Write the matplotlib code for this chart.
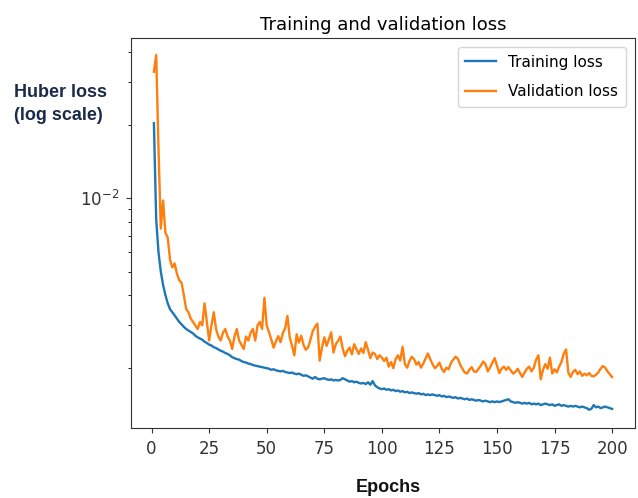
import matplotlib
matplotlib.use("Agg")
import matplotlib.pyplot as plt
from matplotlib.ticker import NullFormatter, LogLocator

# loss per epoch (log scale)
epochs = list(range(1, 201))

training_loss = [
    0.0204, 0.0082, 0.0060, 0.0050, 0.0044, 0.0040, 0.0037, 0.0035, 0.0034, 0.0033,
    0.0032, 0.0031, 0.00303, 0.00296, 0.0029, 0.00286, 0.00282, 0.00278, 0.00272, 0.00268,
    0.00265, 0.00262, 0.00257, 0.00254, 0.0025, 0.00248, 0.00244, 0.00242, 0.00239, 0.00236,
    0.00234, 0.00231, 0.00229, 0.00226, 0.00222, 0.0022, 0.00218, 0.00217, 0.00214, 0.00212,
    0.00211, 0.00209, 0.00208, 0.00206, 0.00205, 0.00204, 0.00203, 0.00202, 0.00201, 0.00200,
    0.00199, 0.00197, 0.00198, 0.00196, 0.00195, 0.00194, 0.00195, 0.00193, 0.00192, 0.00191,
    0.00192, 0.00190, 0.00189, 0.00190, 0.00188, 0.00186, 0.00187, 0.00185, 0.00183, 0.00181,
    0.00184, 0.00181, 0.00180, 0.00181, 0.00182, 0.00180, 0.00179, 0.00180, 0.00178, 0.00179,
    0.00178, 0.00179, 0.00182, 0.00180, 0.00178, 0.00176, 0.00177, 0.00175, 0.00176, 0.00174,
    0.00173, 0.00174, 0.00172, 0.00175, 0.00171, 0.00177, 0.00170, 0.00167, 0.00165, 0.00164,
    0.00165, 0.00163, 0.00164, 0.00162, 0.00163, 0.00161, 0.00162, 0.00160, 0.00161, 0.00159,
    0.00160, 0.00158, 0.00159, 0.00158, 0.00157, 0.00158, 0.00156, 0.00157, 0.00155, 0.00156,
    0.00155, 0.00156, 0.00155, 0.00154, 0.00155, 0.00153, 0.00154, 0.00152, 0.00153, 0.00152,
    0.00151, 0.00152, 0.00150, 0.00151, 0.00150, 0.00149, 0.00150, 0.00148, 0.00149, 0.00148,
    0.00147, 0.00148, 0.00147, 0.00146, 0.00147, 0.00146, 0.00145, 0.00146, 0.00145, 0.00146,
    0.00145, 0.00146, 0.00147, 0.00148, 0.00149, 0.00146, 0.00145, 0.00144, 0.00145, 0.00144,
    0.00143, 0.00144, 0.00143, 0.00144, 0.00142, 0.00143, 0.00142, 0.00143, 0.00141, 0.00142,
    0.00143, 0.00142, 0.00141, 0.00142, 0.00140, 0.00141, 0.00142, 0.00140, 0.00141, 0.00140,
    0.00139, 0.00140, 0.00139, 0.00140, 0.00139, 0.00138, 0.00139, 0.00138, 0.00137, 0.00135,
    0.00136, 0.00141, 0.00138, 0.00139, 0.00137, 0.00138, 0.00139, 0.00138, 0.00137, 0.00136,
]

validation_loss = [
    0.0332, 0.0389, 0.0160, 0.0075, 0.0098, 0.0072, 0.0069, 0.0056, 0.0052, 0.0054,
    0.0049, 0.0046, 0.0045, 0.0040, 0.0035, 0.0034, 0.0032, 0.0031, 0.0030, 0.0029,
    0.0031, 0.0030, 0.0037, 0.0031, 0.0026, 0.0030, 0.0034, 0.0029, 0.0027, 0.0026,
    0.0028, 0.0029, 0.0027, 0.0026, 0.0024, 0.0027, 0.0029, 0.0026, 0.0025, 0.0024,
    0.0027, 0.0026, 0.0028, 0.0029, 0.0026, 0.0030, 0.0031, 0.0029, 0.0039, 0.0030,
    0.00281, 0.00262, 0.00243, 0.00258, 0.00271, 0.00256, 0.00279, 0.00292, 0.00328, 0.00268,
    0.00247, 0.00226, 0.00276, 0.00255, 0.00272, 0.00249, 0.00238, 0.00244, 0.00262, 0.00284,
    0.00296, 0.00305, 0.00215, 0.00243, 0.00268, 0.00247, 0.00263, 0.00281, 0.00232, 0.00251,
    0.00259, 0.00270, 0.00241, 0.00224, 0.00236, 0.00243, 0.00228, 0.00251, 0.00239, 0.00229,
    0.00241, 0.00231, 0.00256, 0.00238, 0.00220, 0.00232, 0.00229, 0.00218, 0.00226, 0.00221,
    0.00214, 0.00221, 0.00203, 0.00212, 0.00200, 0.00218, 0.00226, 0.00215, 0.00245, 0.00208,
    0.00201, 0.00214, 0.00223, 0.00218, 0.00207, 0.00212, 0.00201, 0.00209, 0.00219, 0.00230,
    0.00218, 0.00208, 0.00200, 0.00204, 0.00211, 0.00199, 0.00193, 0.00201, 0.00198, 0.00210,
    0.00217, 0.00223, 0.00219, 0.00207, 0.00199, 0.00192, 0.00190, 0.00197, 0.00202, 0.00194,
    0.00193, 0.00199, 0.00205, 0.00213, 0.00208, 0.00194, 0.00201, 0.00211, 0.00220, 0.00205,
    0.00191, 0.00199, 0.00203, 0.00197, 0.00202, 0.00196, 0.00190, 0.00193, 0.00199, 0.00191,
    0.00184, 0.00192, 0.00199, 0.00203, 0.00194, 0.00201, 0.00217, 0.00226, 0.00180, 0.00197,
    0.00208, 0.00199, 0.00221, 0.00190, 0.00198, 0.00192, 0.00203, 0.00212, 0.00229, 0.00239,
    0.00192, 0.00184, 0.00193, 0.00197, 0.00189, 0.00194, 0.00186, 0.00190, 0.00187, 0.00191,
    0.00186, 0.00185, 0.00188, 0.00192, 0.00199, 0.00204, 0.00201, 0.00194, 0.00189, 0.00184,
]

x_ticks = [0, 25, 50, 75, 100, 125, 150, 175, 200]

fig = plt.figure(figsize=(6.38, 4.98), dpi=100)
ax = fig.add_axes([0.2053, 0.1406, 0.7900, 0.7831])

ax.plot(epochs, training_loss, color='#1f77b4', linewidth=1.7, label='Training loss')
ax.plot(epochs, validation_loss, color='#ff7f0e', linewidth=1.7, label='Validation loss')

ax.set_yscale('log')
ax.set_ylim(0.001135, 0.0457)
ax.set_xlim(-8.95, 209.95)
ax.set_xticks(x_ticks)
ax.yaxis.set_minor_locator(LogLocator(base=10, subs=range(2, 10)))
ax.yaxis.set_minor_formatter(NullFormatter())
ax.tick_params(labelsize=12, colors='#333333', pad=5)
for s in ax.spines.values():
    s.set_color('#333333')

ax.set_title('Training and validation loss', fontsize=13, pad=6)
ax.legend(loc='upper right', fontsize=11, labelspacing=0.95, borderpad=0.5,
          borderaxespad=0.6)

# axis labels sit outside the axes, as in the slide
fig.text(0.022, 0.792, 'Huber loss\n(log scale)', fontsize=13, fontweight='bold',
         family='Liberation Sans', color='#1b2a4a', ha='left', va='center',
         linespacing=1.45)
fig.text(0.608, 0.022, 'Epochs', fontsize=13, fontweight='bold',
         family='Liberation Sans', color='#111111', ha='center', va='center')

fig.savefig('out.png', dpi=100, facecolor='white')
